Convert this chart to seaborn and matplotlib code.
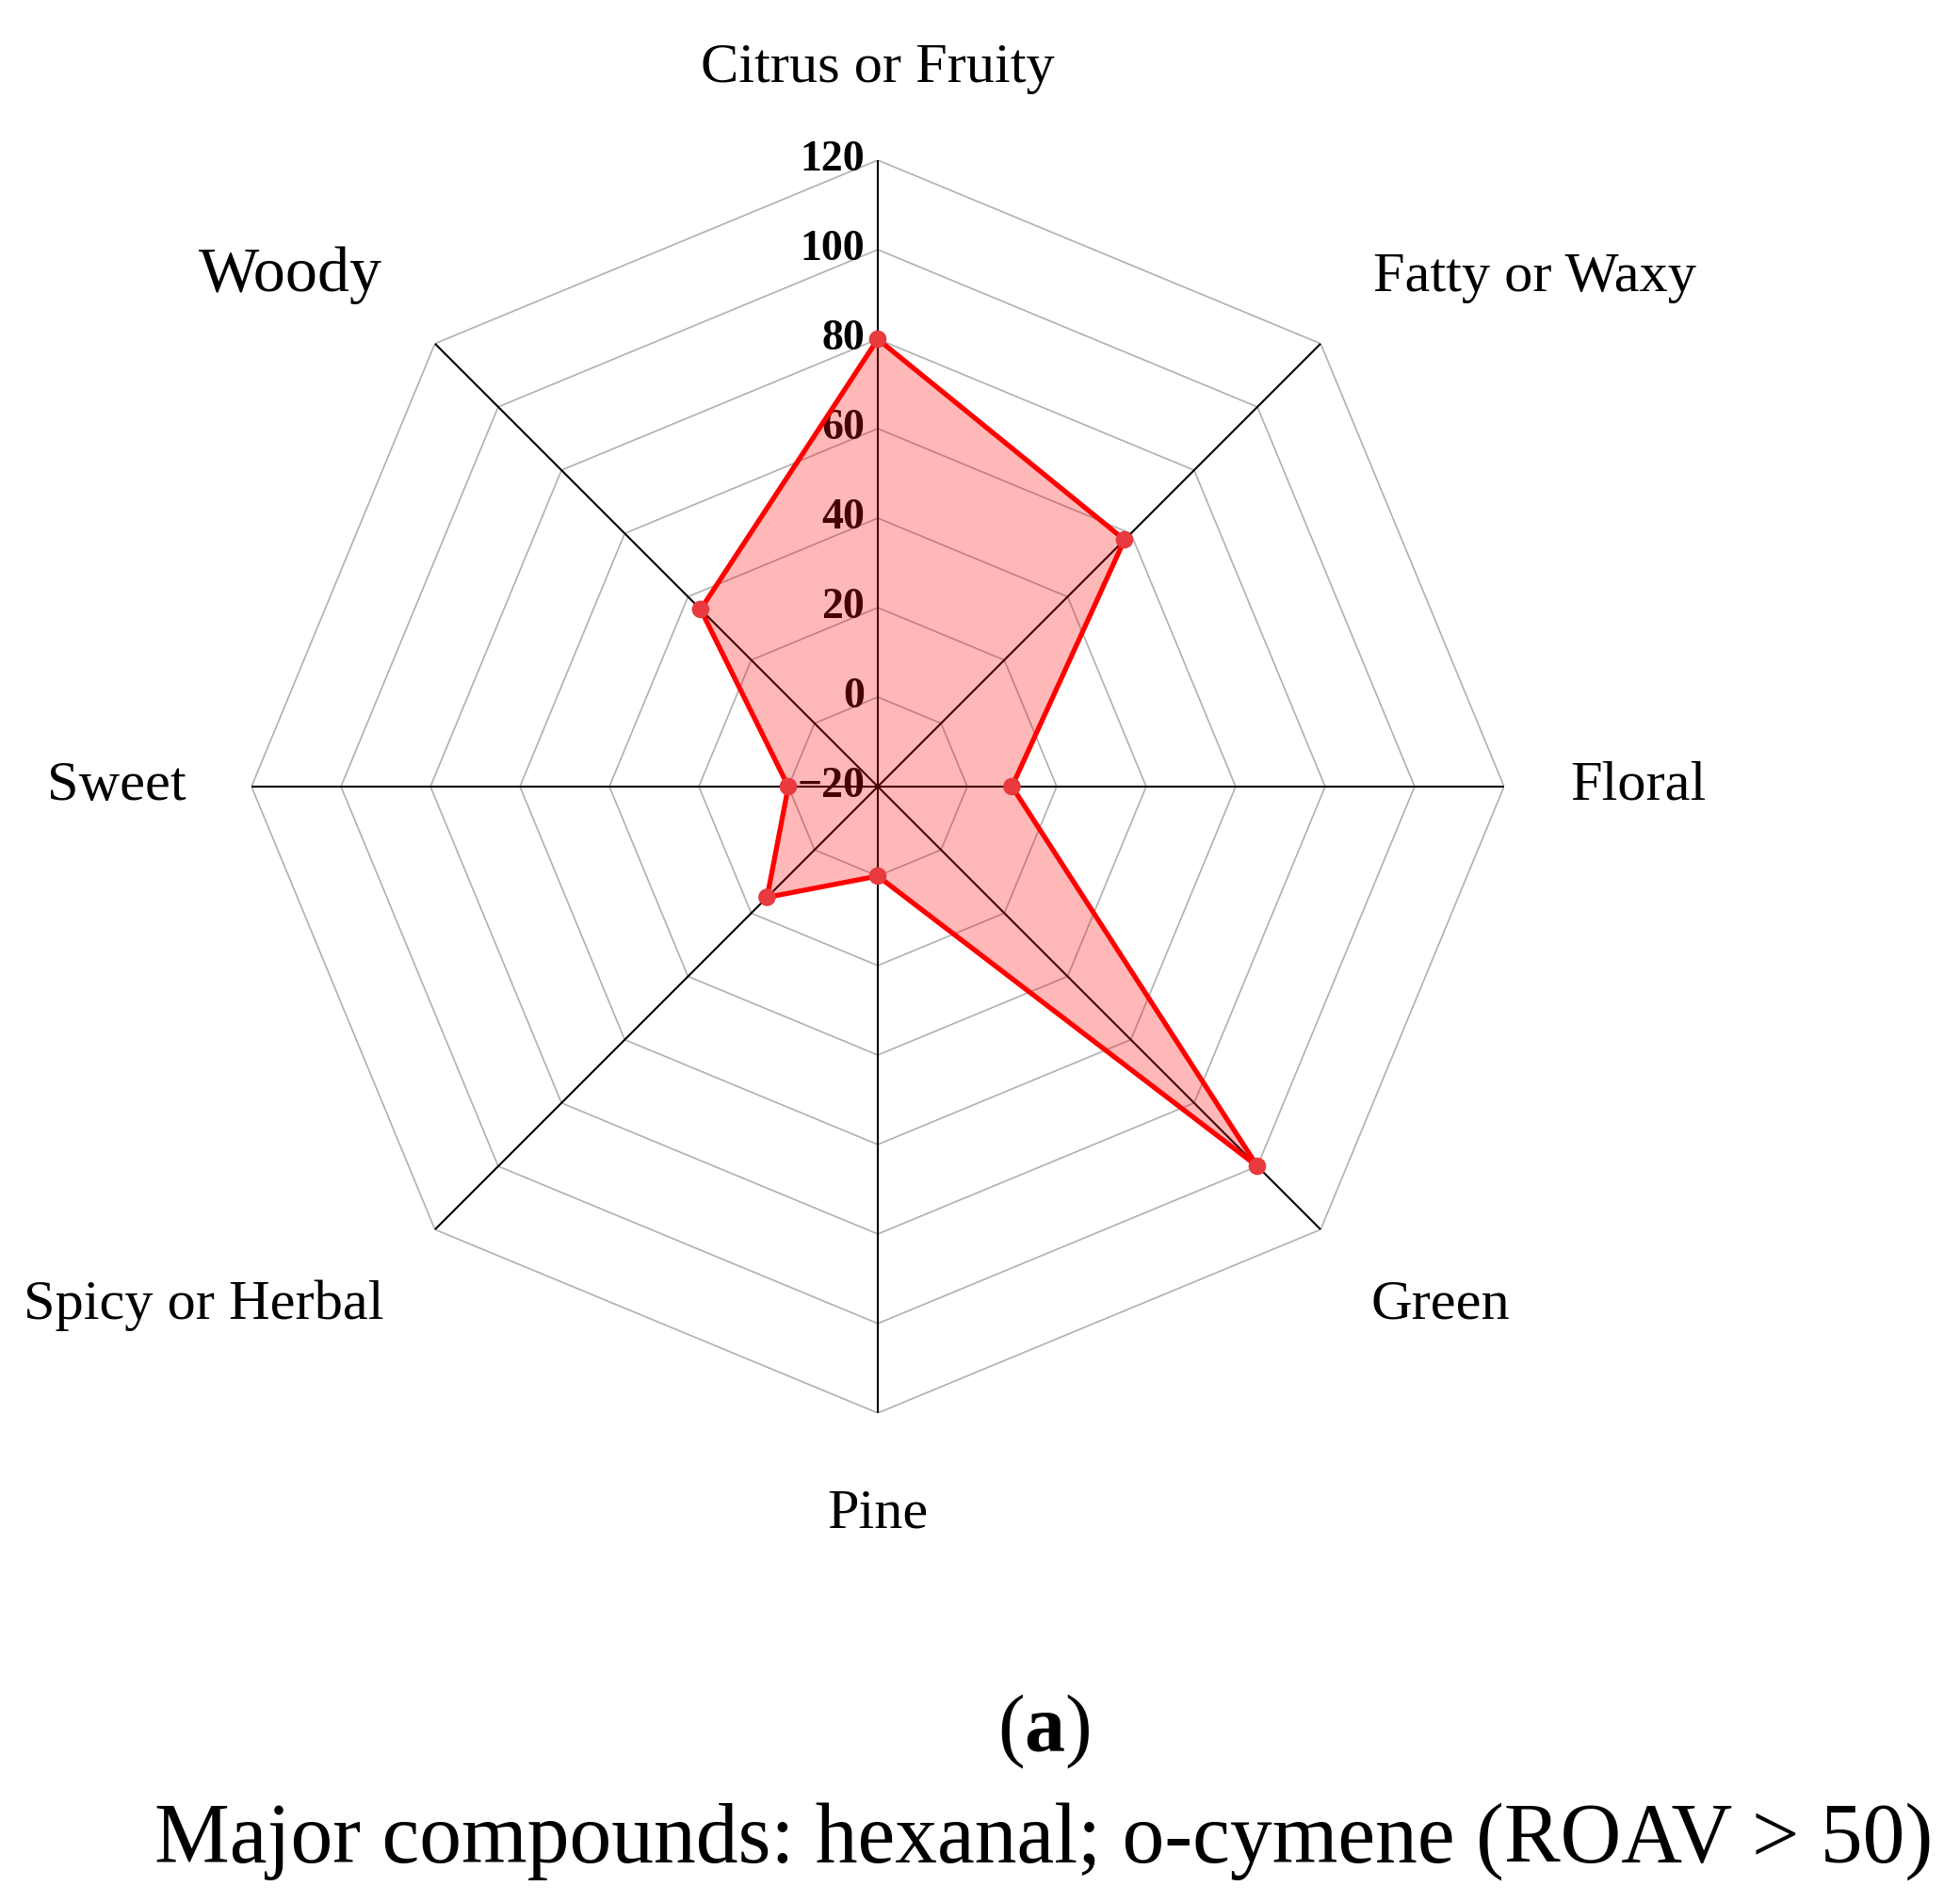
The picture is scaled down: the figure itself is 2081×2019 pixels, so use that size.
import numpy as np
import matplotlib
matplotlib.use("Agg")
import matplotlib.pyplot as plt
import matplotlib.transforms as mtransforms
import seaborn as sns

# aroma categories, clockwise from the top
categories = ["Citrus or Fruity", "Fatty or Waxy", "Floral", "Green",
              "Pine", "Spicy or Herbal", "Sweet", "Woody"]
scores = [80, 58, 10, 100, 0, 15, 0, 36]
ring_values = [0, 20, 40, 60, 80, 100, 120]
tick_values = [-20, 0, 20, 40, 60, 80, 100, 120]
tick_labels = ["\u221220", "0", "20", "40", "60", "80", "100", "120"]
caption = "Major compounds: hexanal; o-cymene (ROAV > 50)"

sns.set_style("white")
plt.rcParams["font.family"] = ["Liberation Serif", "DejaVu Serif"]
plt.rcParams["text.color"] = "black"
plt.rcParams["mathtext.fontset"] = "custom"
plt.rcParams["mathtext.rm"] = "Liberation Serif"
plt.rcParams["mathtext.bf"] = "Liberation Serif:bold"

fig = plt.figure(figsize=(20.81, 20.19), dpi=100)
ax = fig.add_axes([0.1283, 0.2571, 0.6391, 0.6587], projection="polar")
ax.set_theta_zero_location("N")
ax.set_theta_direction(-1)
ax.set_ylim(-20, 120)
ax.set_xticks([])
ax.set_yticks([])
ax.grid(False)
ax.spines["polar"].set_visible(False)
ax.set_facecolor("white")

n = len(categories)
theta = np.linspace(0, 2 * np.pi, n, endpoint=False)
theta_closed = np.append(theta, theta[0])

# octagon grid rings
for rv in ring_values:
    ax.plot(theta_closed, [rv] * (n + 1), color="#b0b0b0", lw=1.2, zorder=1)

# spokes
for t in theta:
    ax.plot([t, t], [-20, 120], color="black", lw=1.5, zorder=1.2)

# radial tick labels left of the top spoke
off = mtransforms.offset_copy(ax.transData, fig=fig, x=-14, y=0, units="dots")
for v, lab in zip(tick_values, tick_labels):
    ax.text(0, v, lab, transform=off, ha="right", va="center",
            fontsize=33, fontweight="bold", color="black", zorder=1.5)

# data polygon
vals_closed = scores + scores[:1]
ax.fill(theta_closed, vals_closed, color="red", alpha=0.28, lw=0, zorder=2)
sns.lineplot(x=theta_closed, y=vals_closed, sort=False, estimator=None,
             color="#ff0000", lw=3.8, ax=ax, zorder=3)
sns.scatterplot(x=theta, y=scores, color="#e83a3f", s=180, edgecolor="none",
                ax=ax, zorder=4)
ax.set_xlabel("")
ax.set_ylabel("")

# category labels
label_pos = {
    "Citrus or Fruity": (137.5, "center", "baseline"),
    "Fatty or Waxy": (136.5, "left", "baseline"),
    "Floral": (134.7, "left", "center"),
    "Green": (136.0, "left", "top"),
    "Pine": (145.7, "center", "baseline"),
    "Spicy or Herbal": (136.0, "right", "top"),
    "Sweet": (134.7, "right", "center"),
    "Woody": (136.5, "right", "baseline"),
}
for t, cat in zip(theta, categories):
    r, ha, va = label_pos[cat]
    fs = 49 if cat == "Woody" else 43.5
    ax.text(t, r, cat, ha=ha, va=va, fontsize=fs, clip_on=False)

fig.text(0.5325, 0.0896, r"($\mathbf{a}$)", ha="center", va="center", fontsize=62)
fig.text(0.5325, 0.0208, caption, ha="center", va="baseline", fontsize=64.5)

fig.savefig("out.png", dpi=100, facecolor="white")
